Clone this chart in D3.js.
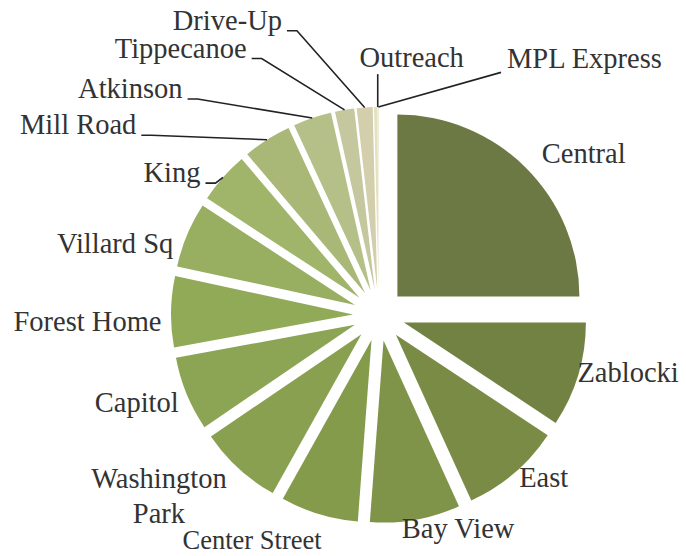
<!DOCTYPE html>
<html>
<head>
<meta charset="utf-8">
<script src="https://cdn.jsdelivr.net/npm/d3@7"></script>
<style>
  body { margin: 0; background: #fff; }
  text { font-family: "Liberation Serif", "DejaVu Serif", serif; fill: #333; }
</style>
</head>
<body>
<svg id="chart" width="686" height="556"></svg>
<script>
// share of circulation by branch (%), clockwise from 12 o'clock
const branches = ["Central", "Zablocki", "East", "Bay View", "Center Street", "Washington Park",
  "Capitol", "Forest Home", "Villard Sq", "King", "Mill Road", "Atkinson", "Tippecanoe",
  "Drive-Up", "Outreach", "MPL Express"];
const share = [25.0, 9.3, 8.9, 8.0, 6.9, 7.4, 6.6, 6.3, 5.8, 4.6, 4.3, 3.4, 1.7, 1.4, 0.3, 0.1];

const colors = ["#6d7944", "#728243", "#798b45", "#7f9448", "#849b4c", "#88a050", "#8ca554",
  "#91aa58", "#98ae60", "#a0b46a", "#a9b876", "#b5bf88", "#c5c79e", "#d3ceab", "#e4e0c3", "#efecd4"];

// where each label sits: [angle deg clockwise from top, distance from pie centre]
const labelAt = [[53.4, 255], [105.1, 258], [136.2, 238], [160.5, 237], [208.5, 266], [231.8, 280],
  [248.2, 261], [266.9, 292], [283.2, 271], [302.7, 246], [301.0, 351], [311.1, 330],
  [322.4, 325], [332.0, 323], [7.5, 250], [39.8, 321]];
const elbowLeft = ["King", "Mill Road", "Atkinson", "Tippecanoe", "Drive-Up"];

const width = 686, height = 556,
  cx = 379, cy = 315,
  radius = 182,
  explode = 26;

const data = branches.map((name, i) => ({ name: name, value: share[i], color: colors[i], label: labelAt[i] }));

const svg = d3.select("#chart");
svg.append("rect").attr("width", width).attr("height", height).attr("fill", "#fff");

const pie = d3.pie().sort(null).value(d => d.value).startAngle(0).endAngle(2 * Math.PI);
const arc = d3.arc().innerRadius(0).outerRadius(radius);
const arcs = pie(data);

const mid = d => (d.startAngle + d.endAngle) / 2;
const polar = (ang, r) => [r * Math.sin(ang), -r * Math.cos(ang)];

const g = svg.append("g").attr("transform", `translate(${cx},${cy})`);

g.selectAll("path.slice")
  .data(arcs)
  .enter().append("path")
  .attr("class", "slice")
  .attr("d", arc)
  .attr("fill", d => d.data.color)
  .attr("transform", d => {
    const p = polar(mid(d), explode);
    return `translate(${p[0]},${p[1]})`;
  });

// labels
const labels = g.selectAll("text.lab")
  .data(arcs)
  .enter().append("text")
  .attr("class", "lab")
  .attr("text-anchor", "middle")
  .attr("font-size", d => d.data.name == "Center Street" ? 26.5 : 28.5)
  .each(function (d) {
    const p = polar(d.data.label[0] * Math.PI / 180, d.data.label[1]);
    const t = d3.select(this).attr("x", p[0]).attr("y", p[1]);
    if (d.data.name == "Washington Park") {
      t.append("tspan").attr("x", p[0]).text("Washington");
      t.append("tspan").attr("x", p[0]).attr("dy", 35).text("Park");
    } else {
      t.text(d.data.name);
    }
  });

// leader lines for the thin slices
const line = d3.line();
labels.each(function (d) {
  const name = d.data.name;
  const b = this.getBBox();
  const base = +d3.select(this).attr("y");
  const end = polar(mid(d), radius + explode);
  let pts = null;
  if (elbowLeft.includes(name)) {
    const x0 = b.x + b.width + 5;
    pts = [[x0, base + 1], [x0 + 10, base + 1], end];
  } else if (name == "Outreach") {
    pts = [[end[0] + 2, base + 7], [end[0] + 2, end[1]]];
  } else if (name == "MPL Express") {
    pts = [[b.x - 6, base + 4], end];
  }
  if (pts) {
    g.append("path")
      .attr("d", line(pts))
      .attr("fill", "none")
      .attr("stroke", "#222")
      .attr("stroke-width", 1.6);
  }
});
</script>
</body>
</html>
